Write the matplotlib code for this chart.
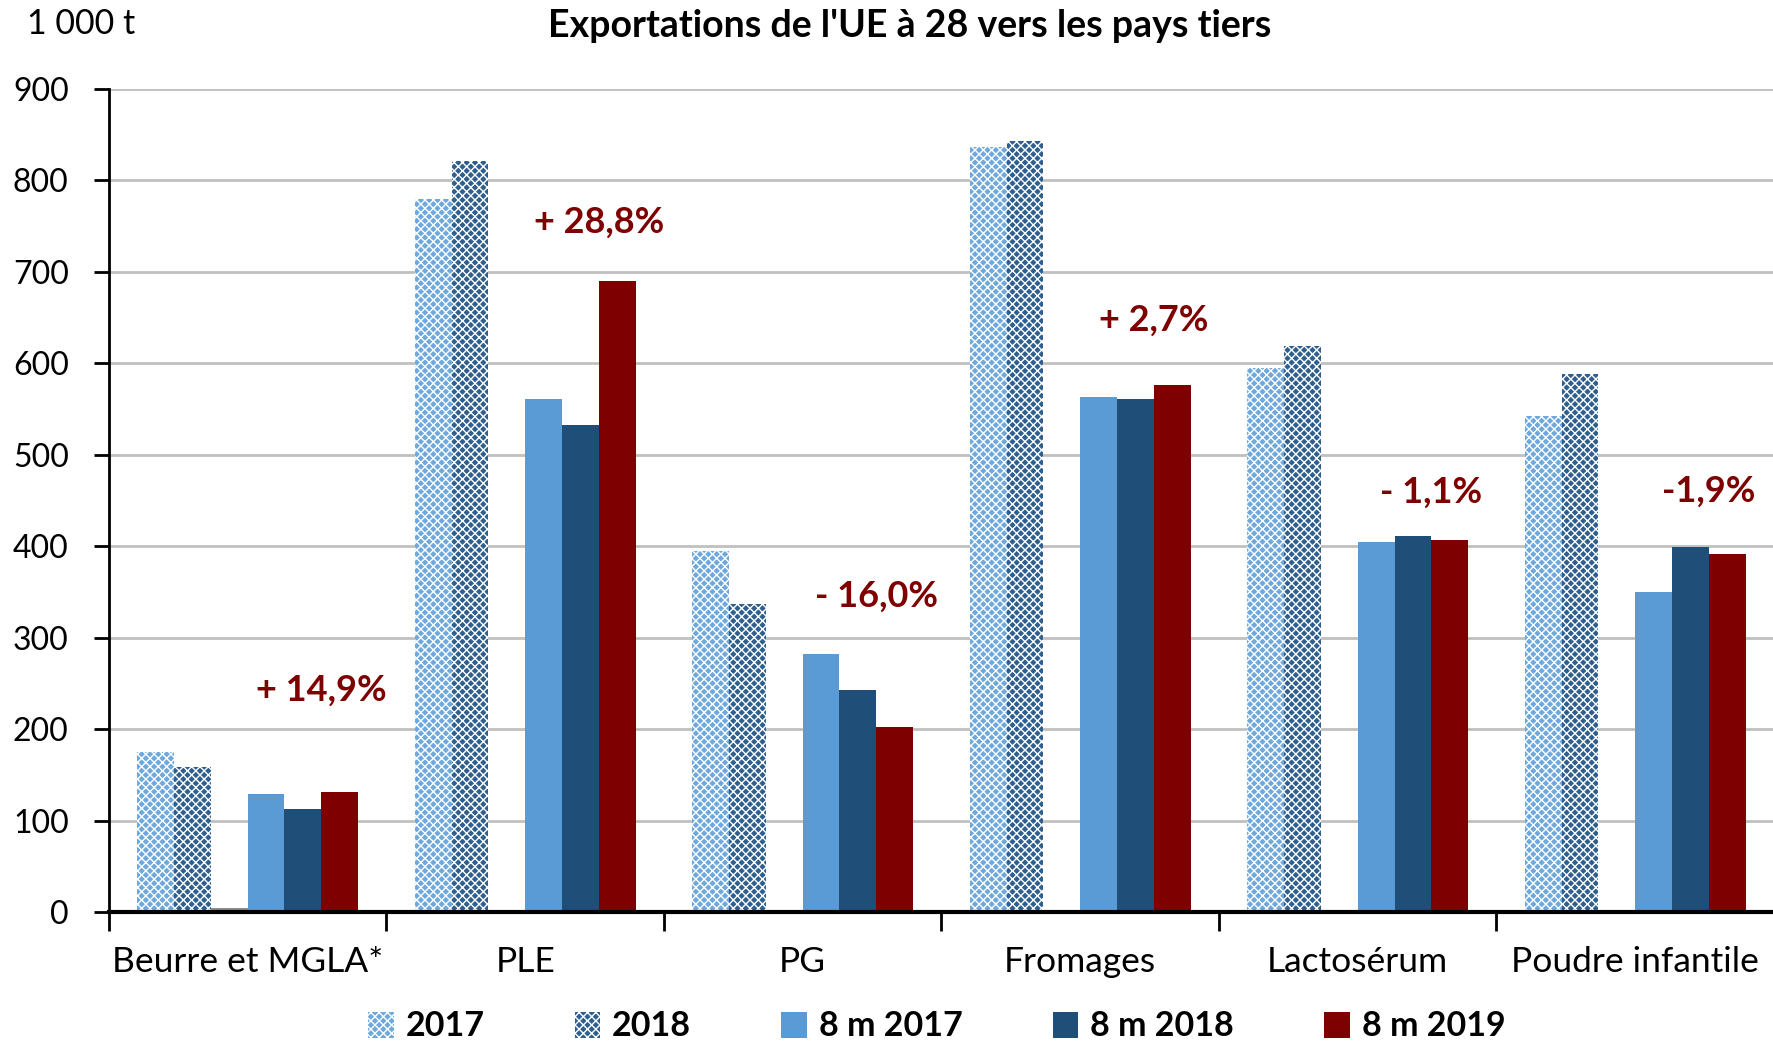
import numpy as np
import matplotlib
matplotlib.use("Agg")
import matplotlib.pyplot as plt
from matplotlib.patches import Patch

plt.rcParams['font.family'] = ['Lato', 'DejaVu Sans']
plt.rcParams['hatch.linewidth'] = 1.0

# data (1 000 t)
categories = ['Beurre et MGLA*', 'PLE', 'PG', 'Fromages', 'Lactosérum', 'Poudre infantile']
y2017 = [175, 780, 395, 837, 595, 542]
y2018 = [158, 821, 337, 843, 619, 588]
gap_series = [4, 0, 0, 0, 0, 0]
m8_2017 = [129, 561, 282, 563, 405, 350]
m8_2018 = [113, 532, 243, 561, 411, 399]
m8_2019 = [131, 690, 202, 576, 407, 392]
changes = ['+ 14,9%', '+ 28,8%', '- 16,0%', '+ 2,7%', '- 1,1%', '-1,9%']
change_y = [243, 754, 345, 647, 459, 460]
yticks = [0, 100, 200, 300, 400, 500, 600, 700, 800, 900]

fig = plt.figure(figsize=(17.74, 10.42), dpi=100)
ax = fig.add_axes([0.0614, 0.1248, 0.9386, 0.7898])

x = np.arange(len(categories))
w = 0.1325

# hatched annual series
ax.bar(x - 2.5 * w, y2017, w, color='#6fa8dc', edgecolor='white', linewidth=0, hatch='xxxx', zorder=3)
ax.bar(x - 1.5 * w, y2018, w, color='#2f5f8f', edgecolor='white', linewidth=0, hatch='xxxx', zorder=3)
ax.bar(x - 0.5 * w, gap_series, w, color='#8c8c8c', linewidth=0, zorder=3)
ax.bar(x + 0.5 * w, m8_2017, w, color='#5b9bd5', linewidth=0, zorder=3)
ax.bar(x + 1.5 * w, m8_2018, w, color='#1f4e79', linewidth=0, zorder=3)
ax.bar(x + 2.5 * w, m8_2019, w, color='#7f0000', linewidth=0, zorder=3)

# change labels over the 8-month bars
for i, lab in enumerate(changes):
    ax.text(x[i] + 2 * w, change_y[i], lab, ha='center', va='center',
            fontsize=26, fontweight='bold', color='#7f0000')

ax.set_xlim(-0.5, len(categories) - 0.5)
ax.set_ylim(0, 900)
ax.set_yticks(yticks)
ax.tick_params(axis='y', labelsize=23, length=11, width=2, pad=18)
ax.set_xticks(np.arange(len(categories) + 1) - 0.5)
ax.set_xticklabels([])
ax.tick_params(axis='x', length=14, width=2, direction='out')
for i, c in enumerate(categories):
    ax.text(x[i], -55, c, ha='center', va='center', fontsize=25.5)

ax.grid(axis='y', color='#c0c0c0', linewidth=2, zorder=0)
ax.set_axisbelow(True)
for s in ['top', 'right']:
    ax.spines[s].set_visible(False)
ax.spines['left'].set_linewidth(2)
ax.spines['bottom'].set_linewidth(3)
ax.spines['bottom'].set_zorder(4)

fig.text(0.513, 0.975, "Exportations de l'UE à 28 vers les pays tiers",
         ha='center', va='center', fontsize=27, fontweight='bold')
fig.text(0.015, 0.977, '1 000 t', ha='left', va='center', fontsize=24.5)

handles = [
    Patch(facecolor='#6fa8dc', edgecolor='white', linewidth=0, hatch='xxxx', label='2017'),
    Patch(facecolor='#2f5f8f', edgecolor='white', linewidth=0, hatch='xxxx', label='2018'),
    Patch(facecolor='#5b9bd5', label='8 m 2017'),
    Patch(facecolor='#1f4e79', label='8 m 2018'),
    Patch(facecolor='#7f0000', label='8 m 2019'),
]
leg = fig.legend(handles=handles, loc='center', bbox_to_anchor=(0.528, 0.015), ncol=5,
                 frameon=False, prop={'size': 24.5, 'weight': 'bold'},
                 handlelength=0.75, handleheight=0.8, handletextpad=0.35, columnspacing=2.65)

fig.savefig('out.png', dpi=100)
